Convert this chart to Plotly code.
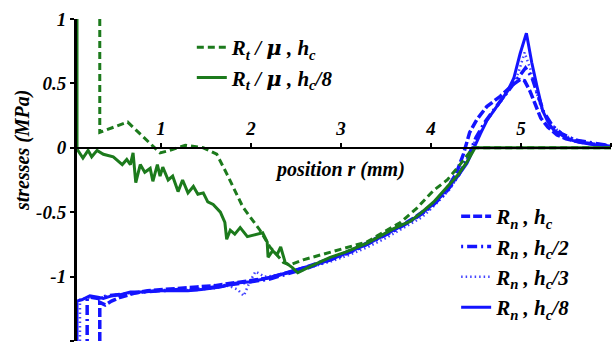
import plotly.graph_objects as go

# ---------------- data ----------------
rt_hc_r = [0.32, 0.32, 0.63, 0.99, 1.1, 1.27, 1.47, 1.62, 1.73, 1.91,
           2.1, 2.21, 2.36, 2.43, 2.58, 2.88, 3.29, 3.66, 3.84, 4.03,
           4.18, 4.3, 4.43, 4.47, 4.6, 5.0, 5.5, 6.0]
rt_hc_v = [1.0, 0.12, 0.20, -0.04, -0.02, 0.02, 0.0, -0.05, -0.2, -0.46,
           -0.64, -0.77, -0.89, -0.91, -0.87, -0.81, -0.73, -0.58, -0.47, -0.33,
           -0.25, -0.15, -0.04, 0.0, 0.0, 0.0, 0.0, 0.0]

rt_hc8_r = [0.067, 0.067, 0.133, 0.19, 0.23, 0.29, 0.36, 0.47, 0.57, 0.62,
            0.66, 0.69, 0.72, 0.77, 0.82, 0.88, 0.91, 0.96, 0.99, 1.02,
            1.08, 1.13, 1.19, 1.24, 1.30, 1.36, 1.41, 1.47, 1.52, 1.58,
            1.66, 1.71, 1.73, 1.77, 1.82, 1.88, 1.96, 2.07, 2.13, 2.18,
            2.19, 2.24, 2.29, 2.33, 2.38, 2.46, 2.52, 2.66, 2.88, 3.05,
            3.29, 3.45, 3.58, 3.77, 3.9, 4.03, 4.2, 4.3, 4.4, 4.49,
            4.6, 5.0, 5.5, 6.0]
rt_hc8_v = [1.0, -0.01, -0.08, -0.02, -0.07, -0.02, -0.05, -0.07, -0.13, -0.09,
            -0.13, -0.04, -0.27, -0.13, -0.19, -0.16, -0.26, -0.13, -0.22, -0.15,
            -0.25, -0.22, -0.34, -0.25, -0.35, -0.30, -0.36, -0.35, -0.42, -0.44,
            -0.50, -0.58, -0.71, -0.64, -0.67, -0.62, -0.69, -0.67, -0.66, -0.73,
            -0.85, -0.80, -0.83, -0.77, -0.89, -0.93, -0.97, -0.92, -0.85, -0.81,
            -0.74, -0.68, -0.63, -0.57, -0.50, -0.42, -0.29, -0.21, -0.11, 0.0,
            0.0, 0.0, 0.0, 0.0]

rn_hc_r = [0.32, 0.32, 0.38, 0.45, 0.55, 0.7, 0.85, 1.0, 1.2, 1.4,
           1.6, 1.8, 2.0, 2.2, 2.4, 2.6, 2.8, 3.0, 3.2, 3.4,
           3.6, 3.8, 4.0, 4.15, 4.28, 4.36, 4.43, 4.51, 4.62, 4.77,
           4.91, 4.99, 5.04, 5.1, 5.16, 5.22, 5.3, 5.4, 5.5, 5.65,
           5.8, 6.0]
rn_hc_v = [-1.5, -1.2, -1.22, -1.19, -1.16, -1.13, -1.11, -1.10, -1.09, -1.08,
           -1.07, -1.05, -1.03, -1.01, -0.97, -0.93, -0.88, -0.83, -0.77, -0.70,
           -0.63, -0.55, -0.45, -0.35, -0.20, -0.05, 0.12, 0.22, 0.32, 0.40,
           0.49, 0.53, 0.52, 0.44, 0.33, 0.23, 0.16, 0.10, 0.07, 0.045,
           0.03, 0.015]

rn_hc2_r = [0.18, 0.18, 0.22, 0.3, 0.4, 0.5, 0.65, 0.8, 1.0, 1.2,
            1.4, 1.6, 1.8, 2.0, 2.2, 2.4, 2.6, 2.8, 3.0, 3.2,
            3.4, 3.6, 3.8, 4.0, 4.15, 4.3, 4.42, 4.5, 4.6, 4.7,
            4.8, 4.9, 4.98, 5.05, 5.12, 5.18, 5.25, 5.35, 5.45, 5.6,
            5.8, 6.0]
rn_hc2_v = [-1.5, -1.17, -1.16, -1.17, -1.15, -1.14, -1.13, -1.12, -1.11, -1.10,
            -1.10, -1.08, -1.06, -1.04, -1.02, -0.98, -0.94, -0.89, -0.84, -0.78,
            -0.71, -0.64, -0.56, -0.46, -0.36, -0.22, -0.06, 0.08, 0.2, 0.3,
            0.39, 0.48, 0.56, 0.62, 0.55, 0.42, 0.28, 0.17, 0.11, 0.06,
            0.035, 0.015]

rn_hc3_r = [0.1, 0.1, 0.15, 0.25, 0.35, 0.5, 0.65, 0.8, 1.0, 1.2,
            1.4, 1.6, 1.75, 1.85, 1.92, 1.98, 2.05, 2.15, 2.3, 2.5,
            2.7, 2.9, 3.1, 3.3, 3.5, 3.7, 3.9, 4.05, 4.2, 4.32,
            4.42, 4.5, 4.6, 4.7, 4.8, 4.9, 4.97, 5.04, 5.1, 5.16,
            5.22, 5.3, 5.4, 5.5, 5.65, 5.8, 6.0]
rn_hc3_v = [-1.5, -1.18, -1.17, -1.16, -1.16, -1.14, -1.13, -1.12, -1.11, -1.11,
            -1.10, -1.09, -1.07, -1.10, -1.15, -1.05, -0.96, -1.00, -0.99, -0.96,
            -0.92, -0.88, -0.83, -0.77, -0.70, -0.62, -0.54, -0.44, -0.33, -0.20,
            -0.06, 0.07, 0.19, 0.29, 0.38, 0.48, 0.58, 0.74, 0.62, 0.46,
            0.32, 0.21, 0.14, 0.09, 0.055, 0.03, 0.015]

rn_hc8_r = [0.067, 0.067, 0.12, 0.21, 0.3, 0.36, 0.45, 0.55, 0.66, 0.8,
            0.97, 1.1, 1.3, 1.45, 1.66, 1.84, 2.0, 2.13, 2.25, 2.4,
            2.58, 2.75, 2.88, 3.05, 3.29, 3.45, 3.58, 3.77, 3.9, 4.03,
            4.2, 4.3, 4.4, 4.47, 4.55, 4.62, 4.7, 4.77, 4.85, 4.92,
            4.99, 5.06, 5.12, 5.18, 5.24, 5.3, 5.36, 5.47, 5.56, 5.66,
            5.8, 5.96, 6.0]
rn_hc8_v = [-1.5, -1.19, -1.18, -1.15, -1.16, -1.17, -1.15, -1.14, -1.12, -1.12,
            -1.11, -1.11, -1.11, -1.10, -1.08, -1.05, -1.04, -1.02, -1.00, -0.97,
            -0.93, -0.90, -0.87, -0.82, -0.75, -0.69, -0.64, -0.57, -0.51, -0.43,
            -0.30, -0.22, -0.12, -0.01, 0.11, 0.21, 0.29, 0.36, 0.44, 0.54,
            0.73, 0.89, 0.66, 0.47, 0.29, 0.20, 0.14, 0.09, 0.06, 0.04,
            0.025, 0.015, 0.012]

x_ticks = [1, 2, 3, 4, 5, 6]
y_ticks = [1, 0.5, 0, -0.5, -1, -1.5]
y_tick_text = ["1", "0.5", "0", "-0.5", "-1", "-1.5"]

MU = "<span style='font-family:DejaVu Serif'>&#956;</span>"
legend_names_t = ["R<sub>t</sub> / " + MU + " , h<sub>c</sub>",
                  "R<sub>t</sub> / " + MU + " , h<sub>c</sub>/8"]
legend_names_n = ["R<sub>n</sub> , h<sub>c</sub>", "R<sub>n</sub> , h<sub>c</sub>/2",
                  "R<sub>n</sub> , h<sub>c</sub>/3", "R<sub>n</sub> , h<sub>c</sub>/8"]

GREEN = "#1c7a1c"
BLUE = "#1414ff"
F = "Liberation Serif"

def sfont(size):
    return dict(family=F, size=size, color="black", weight="bold", style="italic")

fig = go.Figure()
blue_series = [(rn_hc_r, rn_hc_v, dict(color=BLUE, width=3.5, dash="9px,3px")),
               (rn_hc2_r, rn_hc2_v, dict(color=BLUE, width=3.5, dash="2px,4px,10px,4px")),
               (rn_hc3_r, rn_hc3_v, dict(color="rgba(20,20,255,0.8)", width=2.5, dash="1.5px,3px")),
               (rn_hc8_r, rn_hc8_v, dict(color=BLUE, width=3))]
for (xr, yv, ln), nm in zip(blue_series, legend_names_n):
    fig.add_trace(go.Scatter(x=xr, y=yv, mode="lines", name=nm, line=ln,
                             legend="legend2", showlegend=True))
green_series = [(rt_hc_r, rt_hc_v, dict(color=GREEN, width=3, dash="7px,4px")),
                (rt_hc8_r, rt_hc8_v, dict(color=GREEN, width=3))]
for (xr, yv, ln), nm in zip(green_series, legend_names_t):
    fig.add_trace(go.Scatter(x=xr, y=yv, mode="lines", name=nm, line=ln,
                             legend="legend", showlegend=True))

fig.update_layout(
    width=612, height=345,
    margin=dict(l=77, r=1, t=19, b=4),
    paper_bgcolor="white", plot_bgcolor="white",
    xaxis=dict(range=[0.067, 6.0], tickvals=x_ticks, ticktext=[str(t) for t in x_ticks],
               showgrid=False, zeroline=False, showline=True, linecolor="black",
               linewidth=2, anchor="free", position=0.6, side="top",
               ticks="outside", ticklen=4, tickwidth=1.5, tickcolor="black",
               tickfont=sfont(19)),
    yaxis=dict(range=[-1.5, 1.0], tickvals=y_ticks, ticktext=y_tick_text,
               showgrid=False, zeroline=False, showline=True, linecolor="black",
               linewidth=3, ticks="outside", ticklen=4, tickwidth=1.5,
               tickcolor="black", tickfont=sfont(19)),
    legend=dict(x=0.215, y=0.975, xanchor="left", yanchor="top",
                bgcolor="rgba(255,255,255,0)", font=sfont(21), tracegroupgap=0,
                itemwidth=30),
    legend2=dict(x=0.71, y=0.45, xanchor="left", yanchor="top",
                 bgcolor="rgba(255,255,255,0)", font=sfont(21), tracegroupgap=0,
                 itemwidth=30),
    annotations=[
        dict(text="position r (mm)", x=2.99, y=-0.17, xref="x", yref="y",
             showarrow=False, xanchor="center", yanchor="middle", font=sfont(20)),
        dict(text="stresses (MPa)", x=-0.103, y=0.593, xref="paper", yref="paper",
             textangle=-90, showarrow=False, xanchor="center", yanchor="middle",
             font=sfont(20)),
    ],
)

fig.write_html("out.html")
